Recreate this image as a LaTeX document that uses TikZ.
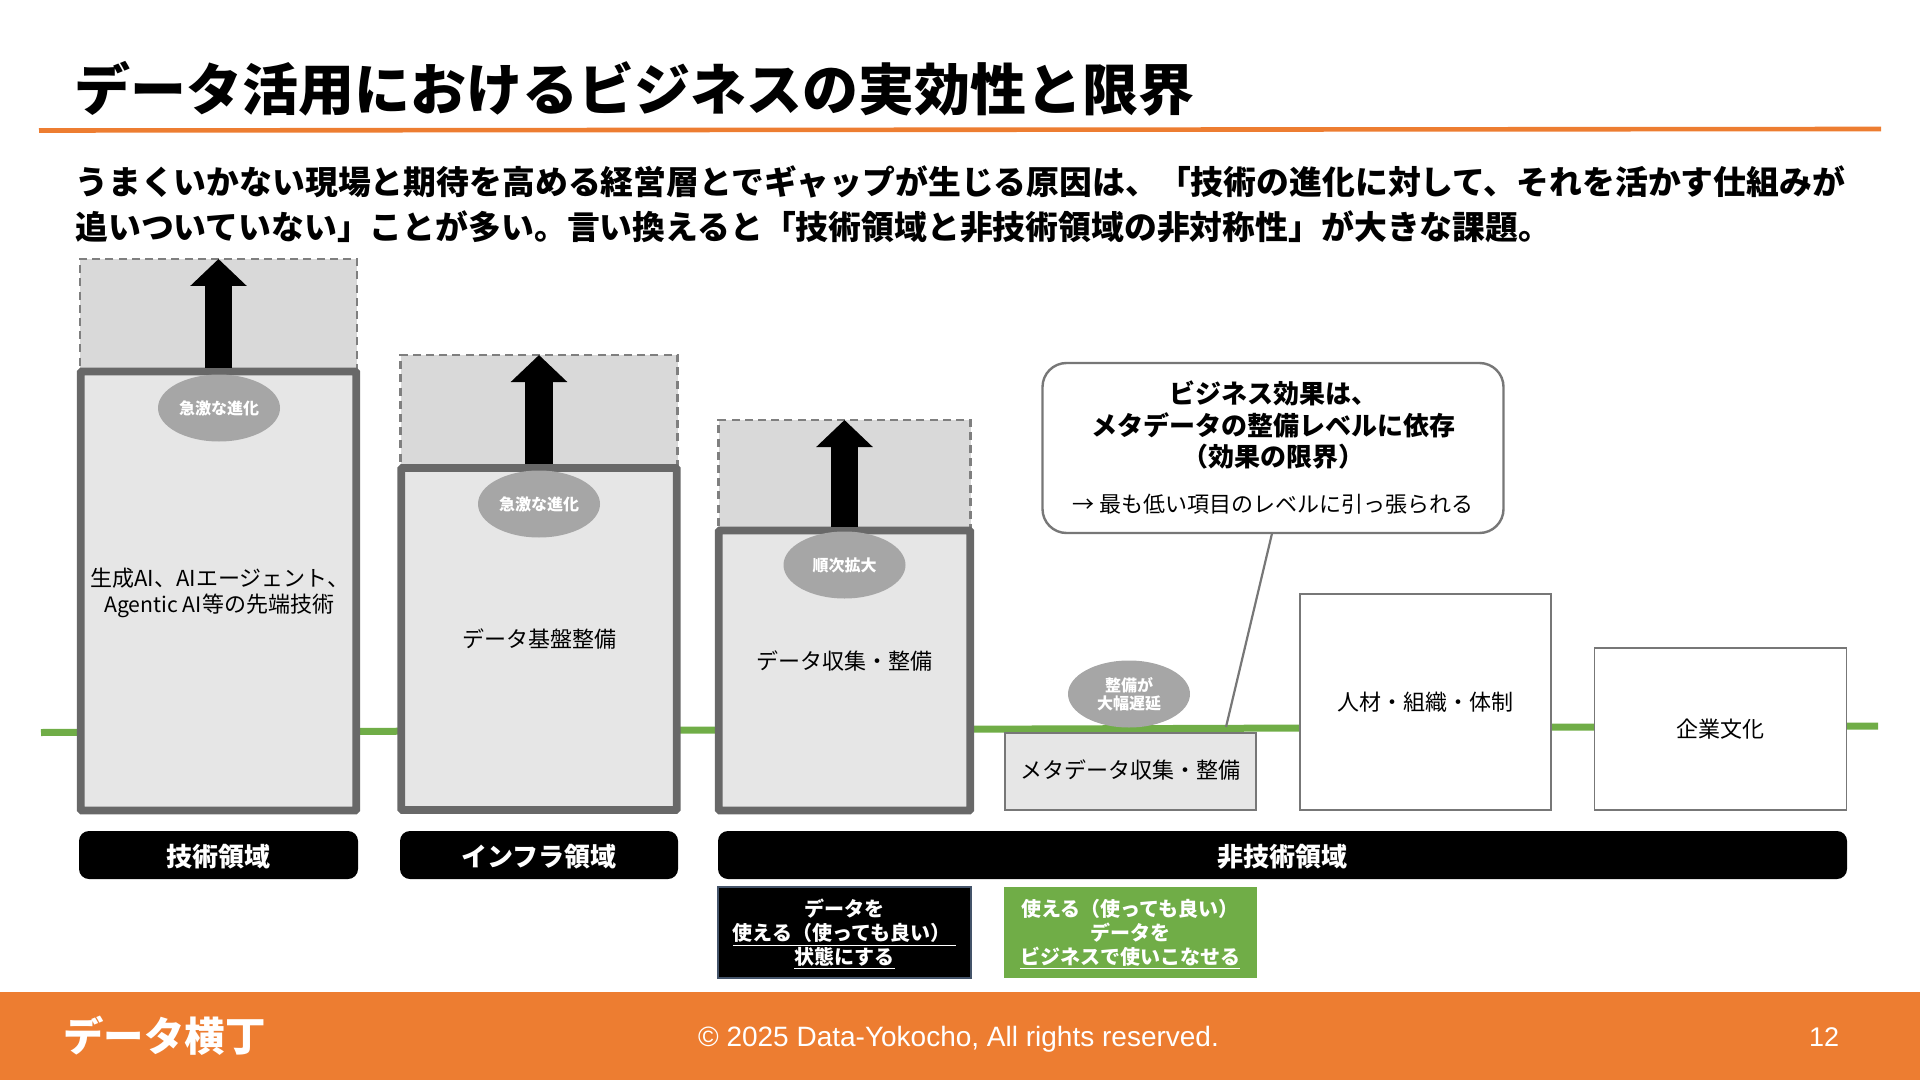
\documentclass[tikz,border=0pt]{standalone}
\usepackage{fontspec}
\setmainfont{Noto Sans CJK JP}
\newfontfamily\latinfont{Liberation Sans}
\usetikzlibrary{arrows.meta,shapes.geometric}
\definecolor{stk}{HTML}{686868}
\definecolor{fillA}{HTML}{E6E6E6}
\definecolor{fillB}{HTML}{D9D9D9}
\definecolor{ellC}{HTML}{A6A6A6}
\definecolor{grn}{HTML}{70AD47}
\definecolor{org}{HTML}{ED7D31}
\definecolor{slate}{HTML}{44546A}
\newcommand{\fsz}[1]{\fontsize{#1}{#1}\selectfont}
\newcommand{\nln}[1]{\smash{\raisebox{-3.9pt}{#1}}}
\newcommand{\cen}[2]{\smash{\raisebox{#1}{#2}}}
\tikzset{
 mainbox/.style={draw=stk,fill=fillA,line width=3.9pt,rounded corners=0.6pt,inner sep=0pt,align=center},
 potbox/.style={draw=stk!85,fill=fillB,line width=1.1pt,dash pattern=on 4pt off 2.6pt,inner sep=0pt,outer sep=0pt},
 thinbox/.style={draw=stk!90,line width=0.9pt,inner sep=0pt,align=center},
 bub/.style={ellipse,fill=ellC,text=white,font=\fsz{8}\bfseries,minimum width=61pt,minimum height=33.5pt,inner sep=0pt,align=center},
 growth/.style={line width=13.6pt,-{Triangle[length=13.5pt,width=27.5pt]},shorten >=0pt},
 lab/.style={fill=black,text=white,rounded corners=5pt,inner sep=0pt,minimum height=24pt,font=\fsz{13}\bfseries},
 note/.style={inner sep=0pt,minimum width=126.5pt,minimum height=45.5pt,text=white,align=center,font=\fontsize{10}{11.9}\selectfont\bfseries},
 body/.style={font=\fsz{11},inner sep=0pt,align=center}
}
\begin{document}
\begin{tikzpicture}[x=0.5pt,y=-0.5pt]
\useasboundingbox (0,0) rectangle (1920,1080);
% title
\node[anchor=west,inner sep=0pt,font=\fsz{28}\bfseries] (title) at (74.5,89) {データ活用におけるビジネスの実効性と限界};
\coordinate (ruleL) at (39,130.5); \coordinate (ruleR) at (1881,129);
\draw[org,line width=2.3pt] (ruleL) -- (ruleR);
\node[anchor=west,inner sep=0pt,font=\fsz{16.42}\bfseries] (sub1) at (75,181.5) {うまくいかない現場と期待を高める経営層とでギャップが生じる原因は、「技術の進化に対して、それを活かす仕組みが};
\node[anchor=west,inner sep=0pt,font=\fsz{16.42}\bfseries] (sub2) at (75,227) {追いついていない」ことが多い。言い換えると「技術領域と非技術領域の非対称性」が大きな課題。};
% green base line
\coordinate (baseL) at (41,732.5); \coordinate (baseR) at (1878,726);
\draw[grn,line width=3.5pt] (baseL) -- (baseR);
% potential boxes
\node[potbox,minimum width=138.5pt,minimum height=56.5pt] (pot1) at (218.5,315.5) {};
\node[potbox,minimum width=138.5pt,minimum height=56.5pt] (pot2) at (539,411.5) {};
\node[potbox,minimum width=126pt,minimum height=55.5pt] (pot3) at (844.5,475.5) {};
% main boxes
\node[mainbox,minimum width=137.7pt,minimum height=219.5pt] (tech) at (218.5,591) {};
\node[mainbox,minimum width=137.7pt,minimum height=171pt] (infra) at (539,639) {};
\node[mainbox,minimum width=125.7pt,minimum height=140pt] (coll) at (844.5,670.5) {};
% growth arrows
\draw[growth] (tech.north) -- (pot1.north);
\draw[growth] (infra.north) -- (pot2.north);
\draw[growth] (coll.north) -- (pot3.north);
% inner labels
\node[body,anchor=west,align=left] (techt) at (90,592.5) {生成AI、AIエージェント、\\[2pt]\hspace*{7pt}{\fontsize{10.6}{11}\selectfont Agentic AI}等の先端技術};
\node[body] (infrat) at (539,639) {データ基盤整備};
\node[body] (collt) at (844.5,661) {データ収集・整備};
% other boxes
\node[thinbox,fill=fillA,minimum width=125.5pt,minimum height=38.5pt,font=\fsz{11}] (meta) at (1130.5,771.5) {\cen{-3.6pt}{メタデータ収集・整備}};
\node[thinbox,fill=white,minimum width=125.5pt,minimum height=108pt,font=\fsz{11}] (ppl) at (1425.5,702) {人材・組織・体制};
\node[thinbox,fill=white,minimum width=126pt,minimum height=81pt,font=\fsz{11}] (cult) at (1720.5,729) {企業文化};
% bubbles
\node[bub] (b1) at (219,408) {急激な進化};
\node[bub] (b2) at (539,504) {急激な進化};
\node[bub] (b3) at (844.5,565) {順次拡大};
\node[bub] (b4) at (1129,694) {整備が\\[1pt]大幅遅延};
% callout
\node[draw=stk!90,fill=white,line width=1.2pt,rounded corners=12pt,minimum width=230.5pt,minimum height=85pt,inner sep=0pt,align=center,font=\fsz{13}\bfseries] (call) at (1273,448)
 {ビジネス効果は、\\[2.6pt]メタデータの整備レベルに依存\\[2.6pt]（効果の限界）\\[10.3pt]\fsz{11}\mdseries → 最も低い項目のレベルに引っ張られる};
\coordinate (tailA) at (1272,533.5); \coordinate (tailB) at (1226,727);
\draw[stk!90,line width=1.1pt] (tailA) -- (tailB);
% domain labels
\node[lab,minimum width=139.5pt] (d1) at (218.5,855) {\cen{-5.9pt}{技術領域}};
\node[lab,minimum width=139pt] (d2) at (539,855) {\cen{-5.9pt}{インフラ領域}};
\node[lab,minimum width=564.5pt] (d3) at (1282.5,855) {\cen{-5.9pt}{非技術領域}};
% notes
\node[note,fill=black,draw=slate,line width=0.8pt] (n1) at (844.5,932.5) {\nln{データを}\\\nln{\underline{使える（使っても良い）\hspace{3pt}}}\\\nln{\underline{状態にする}}};
\node[note,fill=grn] (n2) at (1130,932.5) {\nln{使える（使っても良い）}\\\nln{データを}\\\nln{\underline{ビジネスで使いこなせる}}};
% footer
\path[fill=org] (0,992) rectangle (1920,1080);
\node[text=white,anchor=west,inner sep=0pt,font=\fsz{20.2}\bfseries] (logo) at (63,1036) {データ横丁};
\node[text=white,inner sep=0pt,font=\latinfont\fsz{14}] (copy) at (958.5,1039) {© 2025 Data-Yokocho, All rights reserved.};
\node[text=white,inner sep=0pt,font=\latinfont\fsz{13.5}] (pg) at (1824,1037) {12};
\end{tikzpicture}
\end{document}
